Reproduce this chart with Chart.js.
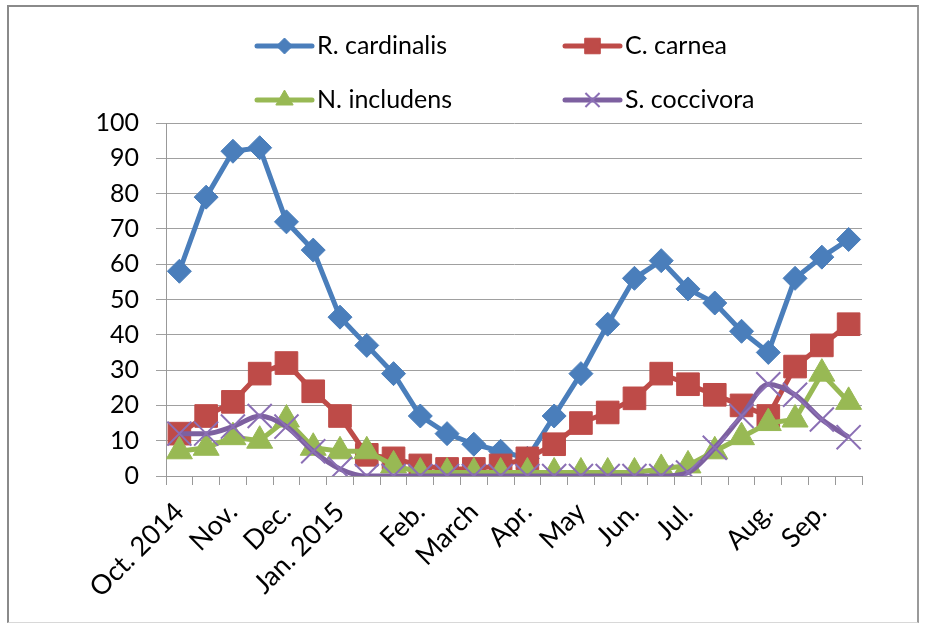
<!DOCTYPE html>
<html>
<head>
<meta charset="utf-8">
<script src="https://cdn.jsdelivr.net/npm/chart.js@4.4.1/dist/chart.umd.min.js"></script>
<style>
  html, body { margin: 0; padding: 0; background: #fff; }
  #wrap { position: relative; width: 926px; height: 626px; }
  #frame { position: absolute; left: 7px; top: 5px; width: 912px; height: 618px;
           border-left: 2px solid #8a8a8a; border-top: 2px solid #8a8a8a; border-right: 2px solid #9a9a9a;
           border-bottom: 1px solid #d8d8d8; box-sizing: border-box; }
  canvas { position: absolute; left: 0; top: 0; }
</style>
</head>
<body>
<div id="wrap">
  <div id="frame"></div>
  <canvas id="c" width="926" height="626"></canvas>
</div>
<script>
// ---- data ----
const categories = ['Oct. 2014','','Nov.','','Dec.','','Jan. 2015','','','Feb.','','March','','Apr.','','May','','Jun.','','Jul.','','','Aug.','','Sep.',''];
const seriesNames = ['R. cardinalis', 'C. carnea', 'N. includens', 'S. coccivora'];
const rCardinalis = [58,79,92,93,72,64,45,37,29,17,12,9,7,5,17,29,43,56,61,53,49,41,35,56,62,67];
const cCarnea     = [12,17,21,29,32,24,17,6,5,3,2,2,3,5,9,15,18,22,29,26,23,20,17,31,37,43];
const nIncludens  = [7,8,11,10,16,8,7,7,3,1,1,1,1,1,1,1,1,1,2,3,7,11,15,16,29,21];
const sCoccivora  = [12,12,14,17,14,7,2,0,0,0,0,0,0,0,0,0,0,0,0,1,8,17,26,23,16,11];
const yTicks = [0,10,20,30,40,50,60,70,80,90,100];

const FONT = 'Lato, "Open Sans", sans-serif';
const styles = [
  { color: '#4a7ebb', point: 'rectRot', radius: 12, pb: '#4a7ebb', pbw: 1, order: 4 },
  { color: '#be4b48', point: 'rect', radius: 16, pb: '#be4b48', pbw: 1, order: 3 },
  { color: '#98b954', point: 'triangle', radius: 15, pb: '#98b954', pbw: 1, order: 2 },
  { color: '#7d60a0', point: 'crossRot', radius: 17, pb: '#8b6fb5', pbw: 2, order: 1 }
];
const values = [rCardinalis, cCarnea, nIncludens, sCoccivora];

const datasets = values.map((v, i) => ({
  label: seriesNames[i],
  data: v,
  borderColor: styles[i].color,
  backgroundColor: styles[i].color,
  borderWidth: 5,
  pointStyle: styles[i].point,
  pointRadius: styles[i].radius,
  pointBackgroundColor: styles[i].color,
  pointBorderColor: styles[i].pb,
  pointBorderWidth: styles[i].pbw,
  tension: i === 3 ? 0.4 : 0,
  cubicInterpolationMode: i === 3 ? 'monotone' : 'default',
  order: styles[i].order
}));

function drawMarker(ctx, style, r, x, y, color, bw) {
  ctx.save();
  ctx.fillStyle = color; ctx.strokeStyle = color; ctx.lineWidth = bw;
  ctx.beginPath();
  if (style === 'rectRot') {
    ctx.moveTo(x, y - r); ctx.lineTo(x + r, y); ctx.lineTo(x, y + r); ctx.lineTo(x - r, y); ctx.closePath();
    ctx.fill(); ctx.stroke();
  } else if (style === 'rect') {
    const s = r / Math.SQRT2;
    ctx.rect(x - s, y - s, 2 * s, 2 * s); ctx.fill(); ctx.stroke();
  } else if (style === 'triangle') {
    ctx.moveTo(x, y - r);
    ctx.lineTo(x + r * Math.sin(2 * Math.PI / 3), y - r * Math.cos(2 * Math.PI / 3));
    ctx.lineTo(x + r * Math.sin(4 * Math.PI / 3), y - r * Math.cos(4 * Math.PI / 3));
    ctx.closePath(); ctx.fill(); ctx.stroke();
  } else {
    const o = r * Math.SQRT1_2;
    ctx.moveTo(x - o, y - o); ctx.lineTo(x + o, y + o);
    ctx.moveTo(x + o, y - o); ctx.lineTo(x - o, y + o);
    ctx.stroke();
  }
  ctx.restore();
}

const gridLegend = {
  id: 'gridLegend',
  afterDraw(chart) {
    const ctx = chart.ctx;
    const pos = [[257, 46], [565, 46], [257, 100], [565, 100]];
    const lr = [8, 11, 10, 10];
    chart.data.datasets.forEach((ds, i) => {
      const [x, y] = pos[i];
      ctx.save();
      ctx.strokeStyle = styles[i].color;
      ctx.lineWidth = 5;
      ctx.lineCap = 'round';
      ctx.beginPath(); ctx.moveTo(x, y); ctx.lineTo(x + 55, y); ctx.stroke();
      ctx.restore();
      drawMarker(ctx, styles[i].point, lr[i], x + 27.5, y, styles[i].pb, styles[i].pbw);
      ctx.save();
      ctx.fillStyle = '#000';
      ctx.font = '25px ' + FONT;
      ctx.textBaseline = 'middle';
      ctx.textAlign = 'left';
      ctx.fillText(ds.label, x + 60, y);
      ctx.restore();
    });
  }
};

function build() {
  new Chart(document.getElementById('c'), {
    type: 'line',
    data: { labels: categories, datasets },
    plugins: [gridLegend],
    options: {
      responsive: false,
      animation: false,
      events: [],
      layout: { padding: { top: 123, right: 64, left: 0, bottom: 0 } },
      plugins: { legend: { display: false }, tooltip: { enabled: false } },
      scales: {
        x: {
          type: 'category',
          offset: true,
          grid: { display: true, drawOnChartArea: false, drawTicks: true, tickLength: 9, offset: true, color: '#999', lineWidth: 1 },
          border: { display: true, color: '#999', width: 1 },
          ticks: { autoSkip: false, maxRotation: 45, minRotation: 45, padding: 11, color: '#000', font: { family: FONT, size: 27 } },
          afterFit: s => { s.height = 150; }
        },
        y: {
          min: 0, max: 100,
          afterBuildTicks: s => { s.ticks = yTicks.map(v => ({ value: v })); },
          ticks: { padding: 17, color: '#000', font: { family: FONT, size: 25 } },
          grid: { color: '#a0a0a0', lineWidth: 1, tickLength: 10, drawTicks: true },
          border: { display: true, color: '#999', width: 1 },
          afterFit: s => { s.width = 166; }
        }
      }
    }
  });
}

if (document.fonts && document.fonts.load) {
  Promise.all([document.fonts.load('24px Lato'), document.fonts.load('27px Lato')]).then(build, build);
} else { build(); }
</script>
</body>
</html>
